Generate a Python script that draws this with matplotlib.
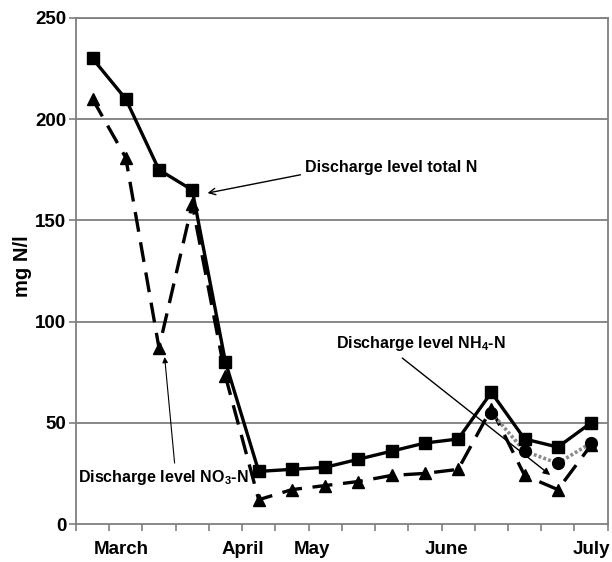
import numpy as np
import matplotlib
matplotlib.use("Agg")
import matplotlib.pyplot as plt
from matplotlib.ticker import FixedLocator

plt.rcParams['font.family'] = ['Liberation Sans', 'DejaVu Sans']
plt.rcParams['font.weight'] = 'bold'
plt.rcParams['mathtext.default'] = 'regular'

# data (16 sampling dates)
total_n = [230, 210, 175, 165, 80, 26, 27, 28, 32, 36, 40, 42, 65, 42, 38, 50]
no3_n = [210, 181, 87, 158, 73, 12, 17, 19, 21, 24, 25, 27, 57, 24, 17, 39]
nh4_n = [np.nan] * 12 + [55, 36, 30, 40]

month_labels = ['March', 'April', 'May', 'June', 'July']
month_pos = [0.85, 4.53, 6.6, 10.65, 15.0]

x = np.arange(len(total_n))

fig = plt.figure(figsize=(6.12, 5.62), dpi=100)
ax = fig.add_axes([0.124, 0.0676, 0.869, 0.9004])

grey = '#7f7f7f'
for yv in [50, 100, 150, 200, 250]:
    ax.axhline(yv, color=grey, lw=1.3, zorder=1)

ax.plot(x, no3_n, color='black', lw=2.4, ls=(0, (6, 3.2)),
        marker='^', ms=9, zorder=3)
ax.plot(x, nh4_n, color='#8a8a8a', lw=2.6, ls=(0, (0.8, 0.6)),
        marker='o', ms=8.5, mfc='black', mec='black', zorder=4)
ax.plot(x, total_n, color='black', lw=2.4, marker='s', ms=9, zorder=5)

ax.set_xlim(-0.5, 15.5)
ax.set_ylim(0, 250)
ax.set_yticks([0, 50, 100, 150, 200, 250])
ax.set_xticks(month_pos)
ax.set_xticklabels(month_labels)
ax.xaxis.set_minor_locator(FixedLocator(np.arange(-0.5, 16, 1)))
ax.tick_params(axis='x', which='major', length=0, pad=12, labelsize=13.5)
ax.tick_params(axis='x', which='minor', length=5, width=1.2, color=grey,
               direction='out')
ax.tick_params(axis='y', length=5, width=1.2, color=grey, pad=2, labelsize=13.5)
for s in ax.spines.values():
    s.set_color(grey)
    s.set_linewidth(1.3)

ax.set_ylabel('mg N/l', fontsize=14.5, fontweight='bold')
ax.yaxis.set_label_coords(-0.083, 0.51)

# annotations
ax.annotate('Discharge level total N', xy=(3.46, 163.5), xytext=(6.38, 175.9),
            fontsize=11.5, fontweight='bold', va='center', ha='left',
            arrowprops=dict(arrowstyle='->', color='black', lw=1.0,
                            relpos=(0, 0.1), shrinkA=1, shrinkB=0), zorder=6)
ax.text(-0.45, 23.2, 'Discharge level NO$_3$-N', fontsize=11.5,
        fontweight='bold', va='center', ha='left', zorder=6)
ax.annotate('', xy=(2.17, 82.5), xytext=(2.47, 30.1),
            arrowprops=dict(arrowstyle='-|>', color='black', lw=0.8,
                            mutation_scale=8, shrinkA=0, shrinkB=0), zorder=6)
ax.text(7.34, 89.4, 'Discharge level NH$_4$-N', fontsize=11.5,
        fontweight='bold', va='center', ha='left', zorder=6)
ax.annotate('', xy=(13.77, 24.2), xytext=(9.32, 82),
            arrowprops=dict(arrowstyle='-|>', color='black', lw=1.0,
                            mutation_scale=10, shrinkA=0, shrinkB=0), zorder=6)

fig.savefig('out.png', dpi=100)
